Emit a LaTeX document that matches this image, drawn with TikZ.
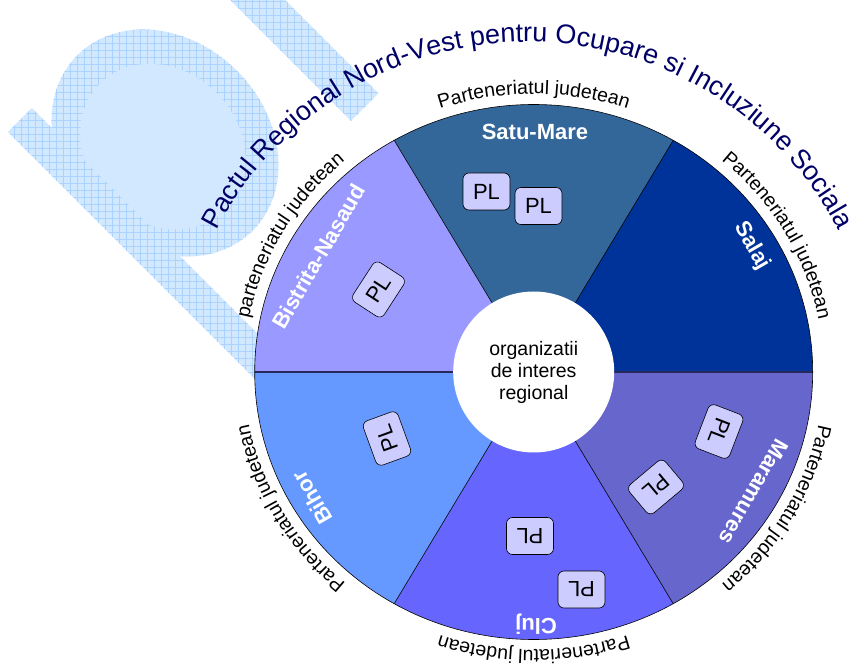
\documentclass[tikz,border=0pt]{standalone}
\usepackage{fontspec}
\setmainfont{Liberation Sans}
\usepackage{xcolor}
\usepackage{tikz}
\usetikzlibrary{decorations.text,patterns.meta}

\definecolor{satumare}{RGB}{51,102,153}
\definecolor{salaj}{RGB}{0,51,153}
\definecolor{maramures}{RGB}{102,102,204}
\definecolor{cluj}{RGB}{102,102,255}
\definecolor{bihor}{RGB}{102,153,255}
\definecolor{bistrita}{RGB}{153,153,255}
\definecolor{plfill}{RGB}{204,204,255}
\definecolor{titlu}{RGB}{0,0,102}
\definecolor{margine}{RGB}{40,40,90}
\definecolor{marcafill}{RGB}{210,232,255}
\definecolor{marcagrid}{RGB}{170,210,255}

\begin{document}
\begin{tikzpicture}[x=1pt,y=1pt,
		felie/.style={draw=black,line width=0.6pt},
		marca/.style={even odd rule,preaction={fill=marcafill},
			pattern={Hatch[angle=0,distance=7pt,line width=0.4pt]},pattern color=marcagrid},
		judet/.style={text=white,inner sep=0pt,font=\fontsize{22}{26}\selectfont\bfseries},
		plbox/.style={draw=black,fill=plfill,line width=0.6pt,rounded corners=6pt,
			minimum width=47pt,minimum height=37pt,inner sep=0pt,font=\fontsize{22}{26}\selectfont},
		partener/.style={decorate,decoration={text along path,text align=center,
			text={|\fontsize{19.5}{22}\selectfont|#1}}}]
	\useasboundingbox (-533.7,-294) rectangle (327.3,372);
	\begin{scope}
		\clip (-533.7,-294) rectangle (327.3,372);
		% marca din fundal
		\begin{scope}[shift={(-368.7,229)},rotate=-45]
			\path[marca] (0,0) ellipse[x radius=124,y radius=102] (1,-4) ellipse[x radius=89,y radius=76];
		\end{scope}
		\path[marca] (-501.7,264) -- (-525.7,240) -- (-245.7,-40) -- (-221.7,-16) -- cycle;
		\path[marca] (-278.7,402) -- (-333.7,402) -- (-182.7,251) -- (-155.2,278.5) -- cycle;
	\end{scope}

	\fill[satumare] (0,0) -- (60:279 and 267.5) arc[start angle=60,end angle=120,x radius=279,y radius=267.5] -- cycle;
	\fill[salaj] (0,0) -- (0:279 and 267.5) arc[start angle=0,end angle=60,x radius=279,y radius=267.5] -- cycle;
	\fill[maramures] (0,0) -- (-60:279 and 267.5) arc[start angle=-60,end angle=0,x radius=279,y radius=267.5] -- cycle;
	\fill[cluj] (0,0) -- (240:279 and 267.5) arc[start angle=240,end angle=300,x radius=279,y radius=267.5] -- cycle;
	\fill[bihor] (0,0) -- (180:279 and 267.5) arc[start angle=180,end angle=240,x radius=279,y radius=267.5] -- cycle;
	\fill[bistrita] (0,0) -- (120:279 and 267.5) arc[start angle=120,end angle=180,x radius=279,y radius=267.5] -- cycle;

	\draw[felie] (0,0) -- (60:279 and 267.5);
	\draw[felie] (0,0) -- (120:279 and 267.5);
	\draw[felie] (0,0) -- (240:279 and 267.5);
	\draw[felie] (0,0) -- (300:279 and 267.5);
	\draw[felie,draw=margine,line width=1.5pt] (-279,0) -- (279,0);
	\draw[felie] (0,0) ellipse[x radius=279,y radius=267.5];

	\node[circle,fill=white,minimum size=161pt,inner sep=0pt,align=center,
		font=\fontsize{19.5}{22}\selectfont] (centru) at (0,0) {organizatii\\de interes\\regional};

	\node[judet] (satu) at (1.3,240.5) {Satu-Mare};
	\node[judet,rotate=-60] (salajnume) at (218.3,126) {Salaj};
	\node[judet,rotate=-120] (maramnume) at (220.3,-120) {Maramures};
	\node[judet,rotate=180] (clujnume) at (2.3,-252) {Cluj};
	\node[judet,rotate=120] (bihornume) at (-221.7,-126) {Bihor};
	\node[judet,rotate=60] (bistritanume) at (-215.2,115.5) {Bistrita-Nasaud};

	\node[plbox] (pl1) at (-47.2,180.5) {PL};
	\node[plbox] (pl2) at (4.8,166) {PL};
	\node[plbox,rotate=-111] (pl3) at (185.3,-59.5) {PL};
	\node[plbox,rotate=-140] (pl4) at (122.3,-115) {PL};
	\node[plbox,rotate=180] (pl5) at (-3.7,-164) {PL};
	\node[plbox,rotate=180] (pl6) at (47.8,-217.5) {PL};
	\node[plbox,rotate=110] (pl7) at (-146.7,-66.5) {PL};
	\node[plbox,rotate=57] (pl8) at (-155.2,82.5) {PL};

	\path[partener=Parteneriatul judetean] (125:290 and 278) arc[start angle=125,end angle=55,x radius=290,y radius=278];
	\path[partener=Parteneriatul judetean] (65:290 and 278) arc[start angle=65,end angle=-5,x radius=290,y radius=278];
	\path[partener=Parteneriatul judetean] (5:290 and 278) arc[start angle=5,end angle=-65,x radius=290,y radius=278];
	\path[partener=Parteneriatul judetean] (305:290 and 278) arc[start angle=305,end angle=235,x radius=290,y radius=278];
	\path[partener=Parteneriatul judetean] (245:290 and 278) arc[start angle=245,end angle=175,x radius=290,y radius=278];
	\path[partener=parteneriatul judetean] (185:290 and 278) arc[start angle=185,end angle=115,x radius=290,y radius=278];

	\path[decorate,decoration={text along path,text align=center,
		text={|\fontsize{27}{31}\selectfont\color{titlu}|Pactul Regional Nord-Vest pentru Ocupare si Incluziune Sociala}}]
		(-357,-21) arc[start angle=180,end angle=0,radius=351];
\end{tikzpicture}
\end{document}
